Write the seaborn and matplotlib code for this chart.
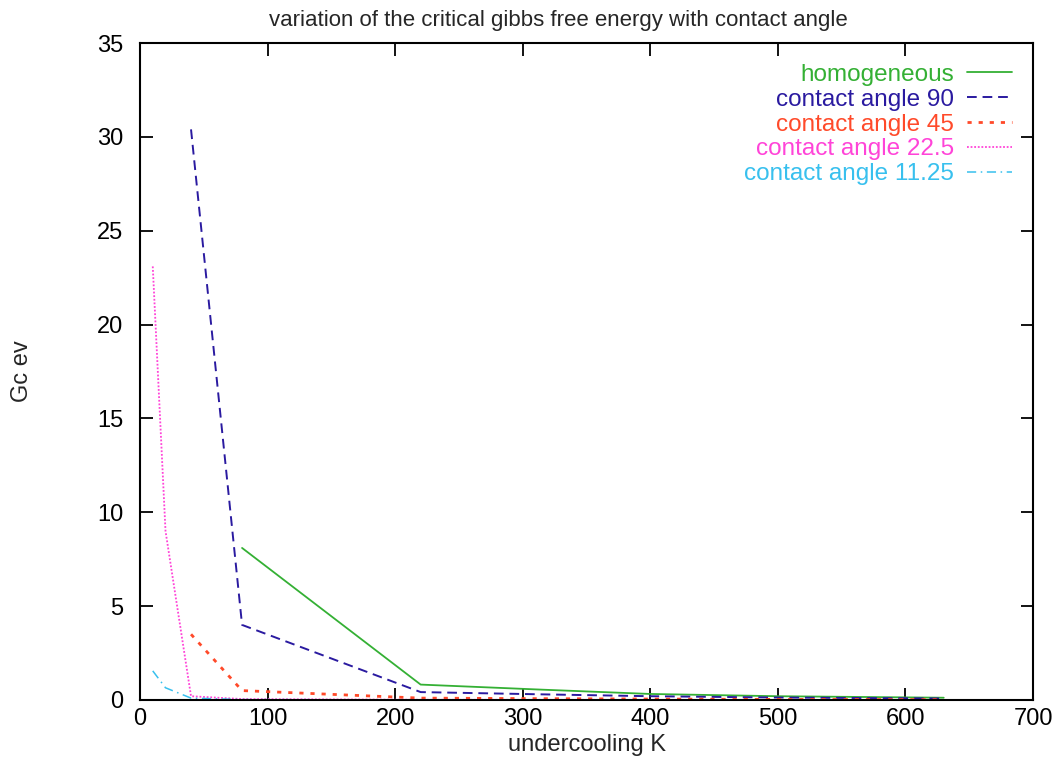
import numpy as np
import pandas as pd
import matplotlib
matplotlib.use("Agg")
import matplotlib.pyplot as plt
import seaborn as sns

# undercooling (K) at which the critical Gibbs free energy was evaluated
undercooling = [10, 20, 40, 80, 220, 315, 400, 500, 630]

# critical Gibbs free energy (eV) for each nucleation case; NaN = not computed
homogeneous = [np.nan, np.nan, np.nan, 8.1, 0.82, 0.55, 0.32, 0.2, 0.12]
angle_90 = [np.nan, np.nan, 30.4, 4.0, 0.42, 0.3, 0.2, 0.13, 0.08]
angle_45 = [np.nan, np.nan, 3.5, 0.5, 0.1, 0.07, 0.05, 0.03, 0.02]
angle_22_5 = [23.1, 9.0, 0.2, 0.05, 0.01, 0.008, 0.005, 0.003, 0.002]
angle_11_25 = [1.55, 0.65, 0.1, 0.02, 0.005, 0.003, 0.002, 0.001, 0.001]

series_labels = ["homogeneous", "contact angle 90", "contact angle 45",
                 "contact angle 22.5", "contact angle 11.25"]
series_values = [homogeneous, angle_90, angle_45, angle_22_5, angle_11_25]
series_colors = ["#34b034", "#2a1aa0", "#ff4a2a", "#ff44d8", "#38c0ee"]
series_styles = ["-", (0, (5, 3)), (0, (1.5, 2.5)), (0, (1, 1)), (0, (6, 3, 1, 3))]
series_widths = [1.3, 1.4, 2.0, 1.3, 1.1]

sns.set_style("ticks")
plt.rcParams["font.family"] = ["Liberation Sans", "DejaVu Sans"]

fig = plt.figure(figsize=(10.63, 7.63), dpi=100)
ax = fig.add_axes([0.1317, 0.0826, 0.8401, 0.861])

for label, vals, col, ls, lw in zip(series_labels, series_values,
                                    series_colors, series_styles, series_widths):
    df = pd.DataFrame({"undercooling": undercooling, "Gc": vals}).dropna()
    sns.lineplot(data=df, x="undercooling", y="Gc", ax=ax, color=col,
                 linestyle=ls, linewidth=lw, label=label)

ax.set_xlim(0, 700)
ax.set_ylim(0, 35)
ax.set_xticks(np.arange(0, 701, 100))
ax.set_yticks(np.arange(0, 36, 5))
ax.tick_params(direction="in", length=9, width=1.3, top=True, right=True,
               labelsize=17, colors="black")
ax.tick_params(axis="y", pad=12)
ax.tick_params(axis="x", pad=6)
for s in ax.spines.values():
    s.set_linewidth(1.5)
    s.set_color("black")

fig.text(0.525, 0.973, "variation of the critical gibbs free energy with contact angle",
         fontsize=16, ha="center", va="center")
ax.set_xlabel("undercooling K", fontsize=17, labelpad=3)
ax.set_ylabel("Gc ev", fontsize=17, labelpad=46)

ax.legend(loc="upper right", frameon=False, markerfirst=False,
          labelcolor="linecolor", fontsize=17.5, handlelength=1.85,
          labelspacing=0.12, handletextpad=0.55, borderaxespad=0.45)

fig.savefig("out.png", dpi=100, facecolor="white")
